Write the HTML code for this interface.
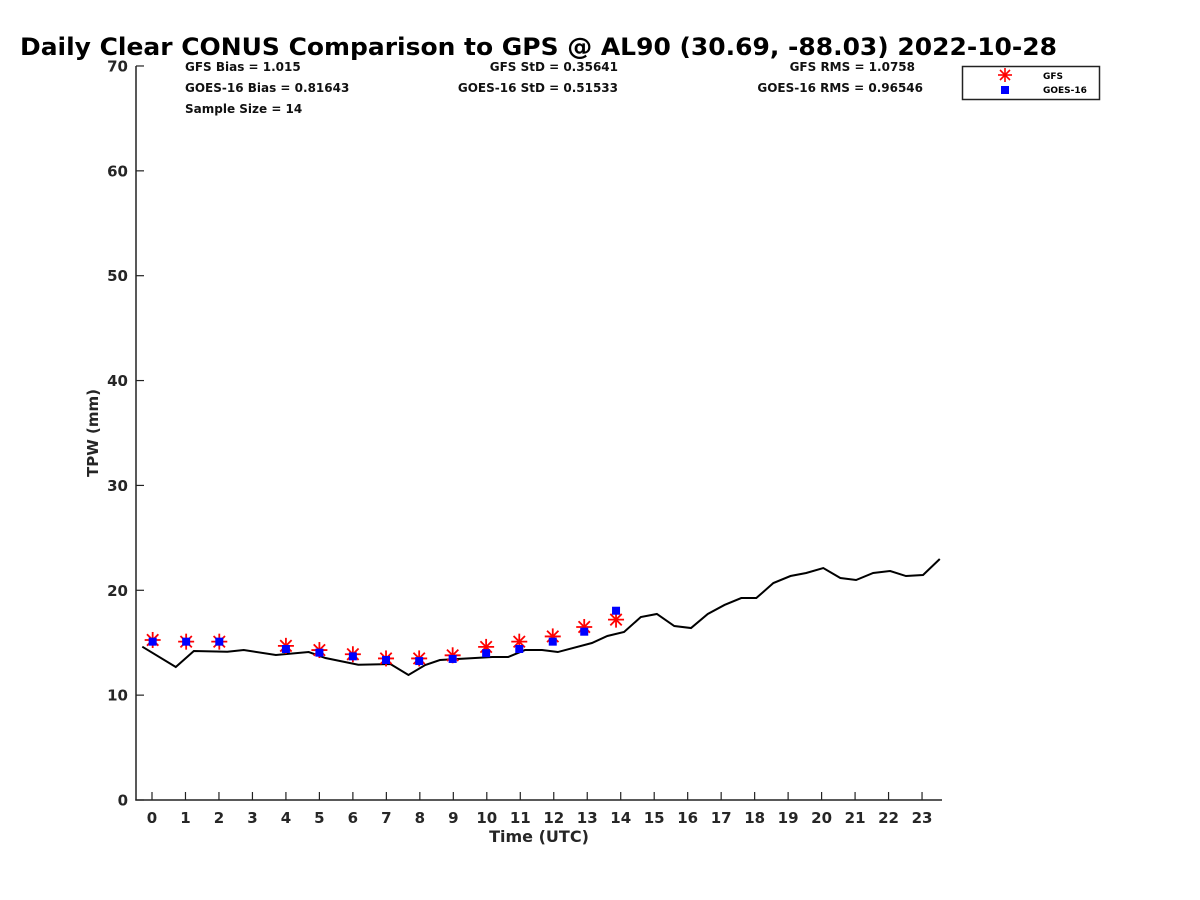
<!DOCTYPE html>
<html><head><meta charset="utf-8"><style>
html,body{margin:0;padding:0;background:#fff;}
svg{display:block;font-family:"DejaVu Sans","Liberation Sans",sans-serif;font-weight:bold;}
</style></head><body>
<svg id="chart" width="1200" height="900" viewBox="0 0 1200 900" xmlns="http://www.w3.org/2000/svg">
<rect width="1200" height="900" fill="#fff"/>
<text x="20" y="55" font-size="24" textLength="1037" lengthAdjust="spacingAndGlyphs">Daily Clear CONUS Comparison to GPS @ AL90 (30.69, -88.03) 2022-10-28</text>
<g font-size="12" fill="#111">
<text x="185" y="71">GFS Bias = 1.015</text>
<text x="185" y="92">GOES-16 Bias = 0.81643</text>
<text x="185" y="113">Sample Size = 14</text>
<text x="618" y="71" text-anchor="end">GFS StD = 0.35641</text>
<text x="618" y="92" text-anchor="end">GOES-16 StD = 0.51533</text>
<text x="915" y="71" text-anchor="end">GFS RMS = 1.0758</text>
<text x="923" y="92" text-anchor="end">GOES-16 RMS = 0.96546</text>
</g>
<g id="axes"></g>
<g id="marks"></g>
<g>
<rect x="962.5" y="66.5" width="137" height="33" fill="#fff" stroke="#222" stroke-width="1.5"/>
<g stroke="red" stroke-width="1.6">
<line x1="998" y1="75" x2="1012" y2="75"/><line x1="1005" y1="68" x2="1005" y2="82"/><line x1="1000" y1="70" x2="1010" y2="80"/><line x1="1000" y1="80" x2="1010" y2="70"/></g>
<rect x="1001" y="86" width="8" height="8" fill="blue"/>
<text x="1043" y="79" font-size="9">GFS</text>
<text x="1043" y="93" font-size="9">GOES-16</text>
</g>
</svg>
<script>
const gpsTimes=[-0.29,0.71,1.25,2.25,2.74,3.7,4.68,5.18,6.16,7.12,7.66,8.16,8.6,9.65,10.16,10.64,11.14,11.65,12.12,13.14,13.6,14.1,14.6,15.08,15.6,16.1,16.6,17.1,17.6,18.05,18.56,19.07,19.54,20.05,20.56,21.03,21.54,22.05,22.52,23.03,23.53];
const gpsValues=[14.62,12.68,14.21,14.14,14.3,13.83,14.11,13.54,12.9,12.97,11.92,12.87,13.35,13.54,13.64,13.64,14.3,14.3,14.11,14.97,15.64,16.02,17.45,17.74,16.59,16.4,17.74,18.6,19.26,19.26,20.69,21.36,21.65,22.12,21.17,20.98,21.65,21.84,21.36,21.46,22.98];
const markTimes=[0.02,1.02,2.01,4.0,5.0,6.0,6.99,7.98,8.98,9.98,10.97,11.97,12.91,13.86];
const gfsValues=[15.26,15.1,15.1,14.7,14.3,13.9,13.5,13.5,13.8,14.6,15.1,15.6,16.5,17.2];
const goesValues=[15.1,15.1,15.1,14.4,14.05,13.7,13.35,13.25,13.45,14.0,14.4,15.1,16.05,18.05];
const xTicks=[0,1,2,3,4,5,6,7,8,9,10,11,12,13,14,15,16,17,18,19,20,21,22,23];
const yTicks=[0,10,20,30,40,50,60,70];
const NS="http://www.w3.org/2000/svg";
const X=v=>152+v*33.48, Y=v=>800-v*10.486;
function mk(tag,attrs,parent){const e=document.createElementNS(NS,tag);for(const k in attrs)e.setAttribute(k,attrs[k]);parent.appendChild(e);return e;}
const ax=document.getElementById('axes'), mg=document.getElementById('marks');
let e=mk('line',{x1:136,y1:66,x2:136,y2:800.5,stroke:'#222','stroke-width':1.5},ax);


e=mk('line',{x1:135.3,y1:800,x2:942,y2:800,stroke:'#222','stroke-width':1.5},ax);


xTicks.forEach(t=>{
 const l=mk('line',{x1:X(t),y1:800,x2:X(t),y2:792,stroke:'#222','stroke-width':1.2},ax);
 
 
 const tx=mk('text',{x:X(t),y:823,'text-anchor':'middle','font-size':15,fill:'#262626'},ax);
 tx.textContent=t;
 
 
});
yTicks.forEach(t=>{
 const l=mk('line',{x1:136,y1:Y(t),x2:144,y2:Y(t),stroke:'#222','stroke-width':1.2},ax);
 
 
 const tx=mk('text',{x:128,y:Y(t)+5.5,'text-anchor':'end','font-size':15,fill:'#262626'},ax);
 tx.textContent=t;
 
 
});
e=mk('text',{x:539,y:842,'text-anchor':'middle','font-size':16,fill:'#262626'},ax);
e.textContent='Time (UTC)';


e=mk('text',{x:98,y:433,'text-anchor':'middle','font-size':15,fill:'#262626',transform:'rotate(-90 98 433)'},ax);
e.textContent='TPW (mm)';


e=mk('polyline',{points:gpsTimes.map((t,i)=>X(t)+','+Y(gpsValues[i])).join(' '),fill:'none',stroke:'#000','stroke-width':2},mg);


markTimes.forEach((t,i)=>{
 const cx=X(t), cy=Y(gfsValues[i]);
 const g=mk('g',{stroke:'red','stroke-width':1.8},mg);
 
 
 mk('line',{x1:cx-8,y1:cy,x2:cx+8,y2:cy},g);
 mk('line',{x1:cx,y1:cy-8,x2:cx,y2:cy+8},g);
 mk('line',{x1:cx-5.7,y1:cy-5.7,x2:cx+5.7,y2:cy+5.7},g);
 mk('line',{x1:cx-5.7,y1:cy+5.7,x2:cx+5.7,y2:cy-5.7},g);
});
markTimes.forEach((t,i)=>{
 const r=mk('rect',{x:X(t)-4,y:Y(goesValues[i])-4,width:8,height:8,fill:'blue'},mg);
 
 
});
</script>
</body></html>
